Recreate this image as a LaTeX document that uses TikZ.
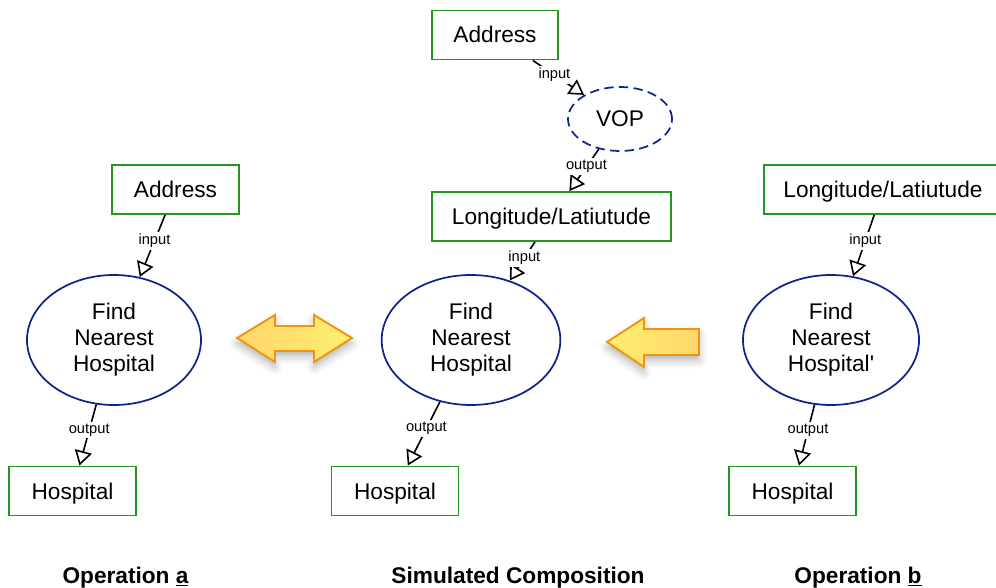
\documentclass[tikz,border=0pt]{standalone}
\usepackage{fontspec}
\setmainfont{Liberation Sans}[Ligatures=TeXOff]
\usetikzlibrary{shapes.geometric,arrows.meta,shadows.blur}

\definecolor{boxgreen}{RGB}{35,150,35}
\definecolor{ovalblue}{RGB}{15,35,140}
\definecolor{arroworange}{RGB}{238,148,18}
\definecolor{yellowLight}{RGB}{255,238,112}
\definecolor{yellowDeep}{RGB}{255,214,108}

\begin{document}
\begin{tikzpicture}[x=0.75pt,y=-0.75pt,
  term/.style={rectangle, draw=boxgreen, line width=1.2pt, inner sep=0pt,
    minimum height=37pt, text height=15pt, text depth=3pt,
    font=\fontsize{17}{20}\selectfont},
  service/.style={ellipse, draw=ovalblue, line width=1.3pt, inner sep=0pt,
    minimum height=97.5pt, align=center,
    font=\fontsize{17}{19.5}\selectfont},
  virtual/.style={ellipse, draw=ovalblue, line width=1.3pt, inner sep=0pt,
    dash pattern=on 7pt off 4pt, minimum width=78pt, minimum height=48pt,
    font=\fontsize{17}{20}\selectfont},
  conn/.style={line width=1.2pt, -{Triangle[open, length=11pt, width=13pt, line width=1.2pt]}},
  lbl/.style={fill=white, inner sep=1.5pt, font=\fontsize{11}{13}\selectfont},
  caption/.style={anchor=base, font=\fontsize{17}{20}\selectfont\bfseries},
  bigarrow/.style={draw=arroworange, line width=1.4pt, line join=miter,
    blur shadow={shadow xshift=0pt, shadow yshift=-4pt, shadow blur radius=6pt,
      shadow opacity=30}}
]
\useasboundingbox (0,0) rectangle (996,588);

% Operation a
\node[term, minimum width=95.25pt] (addrA) at (175.5,189.5) {Address};
\node[service, minimum width=130.5pt] (findA) at (114,340) {Find\\Nearest\\Hospital};
\node[term, minimum width=95.25pt] (hospA) at (72.5,491) {Hospital};
\draw[conn] (addrA) -- node[lbl, pos=0.42] {input} (findA);
\draw[conn] (findA) -- node[lbl, pos=0.42] {output} (hospA);

% Simulated composition
\node[term, minimum width=94.5pt] (addrT) at (495,35) {Address};
\node[virtual] (vop) at (620,119) {VOP};
\node[term, minimum width=179.25pt] (longM) at (551.5,216.5) {Longitude/Latiutude};
\node[service, minimum width=134pt] (findM) at (471,340) {Find\\Nearest\\Hospital};
\node[term, minimum width=95.25pt] (hospM) at (395,491) {Hospital};
\draw[conn] (addrT) -- node[lbl, pos=0.42] {input} (vop);
\draw[conn] (vop) -- node[lbl, pos=0.42] {output} (longM);
\draw[conn] (longM) -- node[lbl, pos=0.42] {input} (findM);
\draw[conn] (findM) -- node[lbl, pos=0.42] {output} (hospM);

% Operation b
\node[term, minimum width=178.5pt] (longR) at (883,189.5) {Longitude/Latiutude};
\node[service, minimum width=132pt] (findR) at (831,340) {Find\\Nearest\\Hospital'};
\node[term, minimum width=95.25pt] (hospR) at (792.5,491) {Hospital};
\draw[conn] (longR) -- node[lbl, pos=0.42] {input} (findR);
\draw[conn] (findR) -- node[lbl, pos=0.42] {output} (hospR);

% Equivalence and substitution arrows
\path[bigarrow, left color=yellowDeep, right color=yellowLight]
  (237,338) -- (275,315) -- (275,326) -- (314,326) -- (314,315) -- (352,338)
  -- (314,362) -- (314,351) -- (275,351) -- (275,362) -- cycle;
\path[bigarrow, left color=yellowLight, right color=yellowDeep]
  (607,342) -- (644,318) -- (644,329) -- (699,329) -- (699,355) -- (644,355)
  -- (644,367) -- cycle;

% Captions
\node[caption] (capA) at (125.5,583) {Operation \underline{a}};
\node[caption] (capM) at (518,583) {Simulated Composition};
\node[caption] (capB) at (858,583) {Operation \underline{b}};
\end{tikzpicture}
\end{document}
